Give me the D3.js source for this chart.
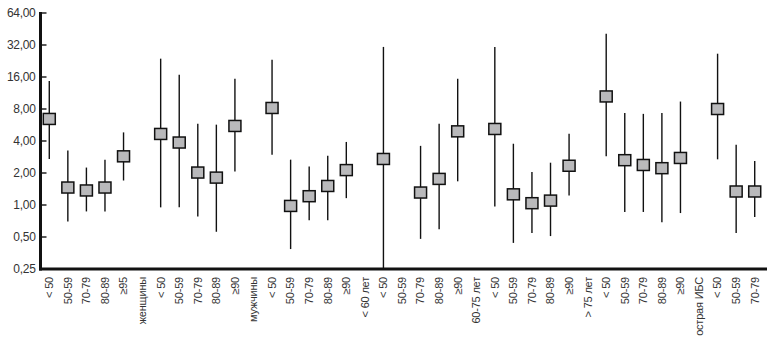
<!DOCTYPE html>
<html><head><meta charset="utf-8">
<script src="https://cdn.jsdelivr.net/npm/d3@7"></script>
<style>
html,body{margin:0;padding:0;background:#fff;}
svg{display:block;font-family:"Liberation Sans",Arial,Helvetica,sans-serif;}
</style></head>
<body><svg id="c" width="778" height="340"></svg>
<script>
const categories = ["< 50","50-59","70-79","80-89","≥95","женщины",
  "< 50","50-59","70-79","80-89","≥90","мужчины",
  "< 50","50-59","70-79","80-89","≥90","< 60 лет",
  "< 50","50-59","70-79","80-89","≥90","60-75 лет",
  "< 50","50-59","70-79","80-89","≥90","> 75 лет",
  "< 50","50-59","70-79","80-89","≥90","острая ИБС",
  "< 50","50-59","70-79"];
const midValues = [6.45,1.46,1.37,1.46,2.87,null,
  4.66,3.87,2.02,1.81,5.54,null,
  8.18,0.98,1.21,1.51,2.13,null,
  2.71,null,1.31,1.76,4.93,null,
  5.19,1.26,1.04,1.10,2.34,null,
  10.5,2.64,2.38,2.22,2.77,null,
  8.0,1.34,1.34];
const highValues = [14.7,3.25,2.25,2.67,4.82,null,
  23.8,16.8,5.82,5.7,15.4,null,
  23.3,2.67,2.3,2.91,3.92,null,
  30.7,null,3.6,5.82,15.4,null,
  30.7,3.77,2.04,2.5,4.69,null,
  40.8,7.34,7.2,7.34,9.4,null,
  26.5,3.69,2.6];
const lowValues = [2.71,0.70,0.87,0.87,1.70,null,
  0.95,0.95,0.78,0.56,2.07,null,
  2.97,0.385,0.72,0.72,1.16,null,
  0.25,null,0.48,0.59,1.67,null,
  0.97,0.44,0.545,0.51,1.23,null,
  2.87,0.86,0.86,0.69,0.84,null,
  2.69,0.545,0.77];
const yTickValues = [0.25,0.5,1,2,4,8,16,32,64];
const yTickLabels = ["0,25","0,50","1,00","2,00","4,00","8,00","16,00","32,00","64,00"];

const svg = d3.select("#c");
const mLeft = 40.5, mRight = 767, mTop = 13, mBottom = 269;
const idx = categories.map((d,i)=>i);
const x = d3.scaleBand().domain(idx).range([40, 764]).padding(0);
const y = d3.scaleLog().base(2).domain([0.25,64]).range([mBottom, mTop]);

const rows = idx.map(i=>({i, m:midValues[i], h:highValues[i], l:lowValues[i]})).filter(d=>d.m!=null);

// whiskers
svg.append("g").selectAll("line").data(rows).join("line")
  .attr("x1", d=>x(d.i)+x.bandwidth()/2).attr("x2", d=>x(d.i)+x.bandwidth()/2)
  .attr("y1", d=>y(d.h)).attr("y2", d=>y(d.l))
  .attr("stroke","#111").attr("stroke-width",1.4);

// squares
const sw = 12, sh = 11;
svg.append("g").selectAll("rect").data(rows).join("rect")
  .attr("x", d=>x(d.i)+x.bandwidth()/2 - sw/2).attr("y", d=>y(d.m)-sh/2)
  .attr("width", sw).attr("height", sh)
  .attr("fill","#b9b9bb").attr("stroke","#111").attr("stroke-width",1.5);

// y axis
const yAxis = d3.axisLeft(y).tickValues(yTickValues).tickFormat((d,i)=>yTickLabels[i]).tickSize(0).tickPadding(5);
const gy = svg.append("g").attr("transform",`translate(${mLeft},0)`).call(yAxis);
gy.select(".domain").remove();
gy.selectAll("text").attr("font-size",12).attr("fill","#333").attr("font-family","'Liberation Sans',Arial,sans-serif").attr("letter-spacing","-0.3");
svg.append("g").selectAll("line").data(yTickValues.slice(1)).join("line")
  .attr("x1", mLeft).attr("x2", mLeft+6).attr("y1", d=>y(d)).attr("y2", d=>y(d))
  .attr("stroke","#111").attr("stroke-width",1.4);
svg.append("line").attr("x1",mLeft).attr("x2",mLeft).attr("y1",mTop-1).attr("y2",mBottom+1.5)
  .attr("stroke","#111").attr("stroke-width",3);

// x axis
const xAxis = d3.axisBottom(x).tickFormat(i=>categories[i]).tickSize(0).tickPadding(0);
const gx = svg.append("g").attr("transform",`translate(0,${mBottom})`).call(xAxis);
gx.select(".domain").remove();
gx.selectAll("text")
  .attr("font-size",11).attr("fill","#333").attr("font-family","'Liberation Sans',Arial,sans-serif")
  .attr("transform","rotate(-90)").attr("text-anchor","end")
  .attr("x",-8).attr("y",0).attr("dy","0.35em").attr("letter-spacing","-0.2");
svg.append("line").attr("x1",mLeft-1.5).attr("x2",mRight).attr("y1",mBottom).attr("y2",mBottom)
  .attr("stroke","#111").attr("stroke-width",3);
</script></body></html>
